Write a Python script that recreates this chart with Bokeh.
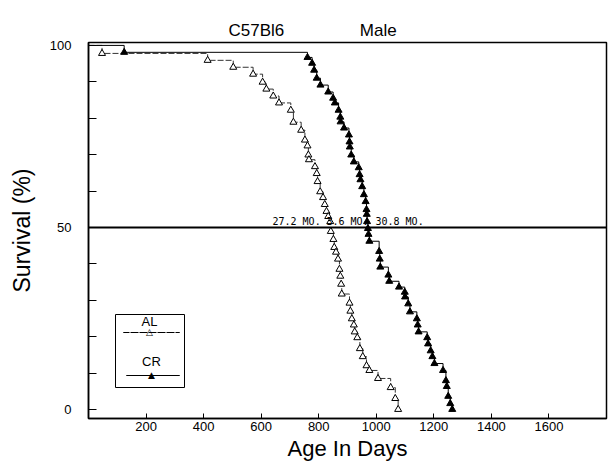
from bokeh.plotting import figure
from bokeh.models import Range1d, FixedTicker, Span, Label, BoxAnnotation, PolyAnnotation
from bokeh.embed import file_html
from bokeh.resources import INLINE

# Kaplan-Meier survival, C57Bl6 male mice
al_days = [0, 47, 414, 503, 572, 605, 618, 642, 662, 703, 712, 739, 752, 761, 764, 766,
           787, 793, 796, 805, 815, 821, 827, 833, 840, 842, 851, 854, 860, 867, 872, 875,
           878, 880, 907, 910, 915, 922, 925, 934, 943, 953, 966, 976, 1006, 1050, 1066, 1076]
al_surv = [100, 97.8, 95.9, 94.0, 92.1, 89.9, 88.0, 86.1, 84.2, 82.2, 78.9, 76.7, 74.0, 72.4,
           69.9, 68.6, 66.7, 64.8, 62.6, 59.8, 58.2, 56.3, 54.4, 53.0, 51.6, 48.9, 46.7, 44.5,
           43.2, 41.3, 38.5, 36.6, 34.4, 31.7, 29.2, 27.0, 24.9, 23.2, 21.3, 19.7, 16.7, 14.5,
           12.0, 10.7, 8.5, 6.0, 3.0, 0]

cr_days = [0, 124, 761, 777, 784, 793, 806, 833, 850, 856, 869, 875, 876, 888, 905, 907, 908,
           913, 922, 939, 942, 945, 951, 957, 963, 966, 967, 968, 971, 973, 976, 1010, 1012,
           1014, 1042, 1045, 1079, 1099, 1100, 1111, 1117, 1141, 1144, 1147, 1177, 1180, 1189,
           1195, 1202, 1232, 1242, 1245, 1250, 1257, 1264]
cr_surv = [100, 98.1, 96.7, 95.1, 93.2, 91.0, 89.1, 87.2, 85.5, 84.2, 82.2, 80.3, 79.0, 77.3,
           75.4, 73.5, 72.1, 69.9, 68.0, 66.4, 64.5, 63.1, 61.2, 59.0, 57.1, 54.9, 53.6, 51.6,
           49.7, 48.1, 46.2, 43.4, 41.3, 39.1, 36.9, 35.2, 33.6, 32.2, 30.9, 29.0, 26.8, 24.9,
           23.2, 21.3, 19.7, 18.0, 16.1, 14.5, 12.6, 10.7, 7.9, 6.3, 3.6, 1.6, 0]

median_level = 50
median_texts = ["27.2 MO.", "3.6 MO.", "30.8 MO."]
x_ticks = [200, 400, 600, 800, 1000, 1200, 1400, 1600]
y_ticks = [0, 10, 20, 30, 40, 50, 60, 70, 80, 90, 100]
y_labelled = [0, 50, 100]

FONT = "Liberation Sans"

p = figure(width=608, height=463, output_backend="svg", toolbar_location=None,
           x_range=Range1d(0, 1800), y_range=Range1d(-2.5, 100.8),
           min_border_left=88, min_border_right=2, min_border_top=42, min_border_bottom=43)
p.grid.visible = False
p.background_fill_color = "white"
p.border_fill_color = "white"
p.outline_line_color = "black"
p.outline_line_alpha = 1
p.outline_line_width = 1.5

# title
p.title.text = "C57Bl6" + "\u00a0" * 16 + "Male"
p.title.align = "left"
p.title.offset = 140
p.title.text_font = FONT
p.title.text_font_size = "17px"
p.title.text_font_style = "normal"
p.title.text_color = "black"
p.title.standoff = 6

# axes
xa = p.xaxis[0]
xa.ticker = FixedTicker(ticks=x_ticks)
xa.axis_label = "Age In Days"
xa.axis_label_text_font = FONT
xa.axis_label_text_font_size = "22px"
xa.axis_label_text_font_style = "normal"
xa.axis_label_text_color = "black"
xa.axis_label_standoff = 2
xa.major_label_text_font = FONT
xa.major_label_text_font_size = "13px"
xa.major_label_text_color = "black"
xa.major_label_standoff = 3
xa.major_tick_in = 5
xa.major_tick_out = 0
xa.major_tick_line_color = "black"
xa.minor_tick_in = 0
xa.minor_tick_out = 0
xa.axis_line_color = "black"
xa.axis_line_width = 1.5

ya = p.yaxis[0]
ya.ticker = FixedTicker(ticks=y_ticks)
ya.major_label_overrides = {t: "" for t in y_ticks if t not in y_labelled}
ya.axis_label = "Survival (%)"
ya.axis_label_text_font = FONT
ya.axis_label_text_font_size = "23px"
ya.axis_label_text_font_style = "normal"
ya.axis_label_text_color = "black"
ya.axis_label_standoff = 12
ya.major_label_text_font = FONT
ya.major_label_text_font_size = "13px"
ya.major_label_text_color = "black"
ya.major_label_standoff = 17
ya.major_label_orientation = "horizontal"
ya.major_tick_in = 8
ya.major_tick_out = 0
ya.major_tick_line_color = "black"
ya.minor_tick_in = 0
ya.minor_tick_out = 0
ya.axis_line_color = "black"
ya.axis_line_width = 1.5

# median line
p.add_layout(Span(location=median_level, dimension="width", line_color="black",
                  line_alpha=1, line_width=2))

# curves
p.step(al_days, al_surv, mode="after", line_color="#333333", line_width=1, line_dash="6 2")
p.scatter(al_days[1:], al_surv[1:], marker="triangle", size=7, fill_color="white",
          line_color="black", line_width=1)
p.step(cr_days, cr_surv, mode="after", line_color="black", line_width=1)
p.scatter(cr_days[1:], cr_surv[1:], marker="triangle", size=7, fill_color="black",
          line_color="black", line_width=1)

# median texts (screen units relative to frame)
for txt, sx in zip(median_texts, [184, 238, 287]):
    p.add_layout(Label(x=sx, y=197, x_units="screen", y_units="screen", text=txt,
                       text_font="DejaVu Sans Mono", text_font_size="10px",
                       text_baseline="middle", text_color="black"))

# legend box (drawn as annotations)
p.add_layout(BoxAnnotation(left=27, right=96, bottom=31, top=104,
                           left_units="screen", right_units="screen",
                           bottom_units="screen", top_units="screen",
                           fill_alpha=0, line_color="black", line_alpha=1, line_width=1))
p.add_layout(Label(x=61, y=97, x_units="screen", y_units="screen", text="AL",
                   text_font=FONT, text_font_size="13px", text_align="center",
                   text_baseline="middle", text_color="black"))
p.add_layout(PolyAnnotation(xs=[35, 91, 91, 35], ys=[86, 86, 86, 86],
                            xs_units="screen", ys_units="screen", fill_alpha=0,
                            line_color="black", line_alpha=1, line_width=1, line_dash="6 3"))
p.add_layout(Label(x=61, y=87, x_units="screen", y_units="screen", text="\u25b3",
                   text_font="DejaVu Sans", text_font_size="9px", text_align="center",
                   text_baseline="middle", text_color="black"))
p.add_layout(Label(x=63, y=57, x_units="screen", y_units="screen", text="CR",
                   text_font=FONT, text_font_size="13px", text_align="center",
                   text_baseline="middle", text_color="black"))
p.add_layout(PolyAnnotation(xs=[38, 91, 91, 38], ys=[43, 43, 43, 43],
                            xs_units="screen", ys_units="screen", fill_alpha=0,
                            line_color="black", line_alpha=1, line_width=1))
p.add_layout(Label(x=63, y=44, x_units="screen", y_units="screen", text="\u25b2",
                   text_font="DejaVu Sans", text_font_size="9px", text_align="center",
                   text_baseline="middle", text_color="black"))

open("out.html", "w").write(file_html(p, INLINE))
